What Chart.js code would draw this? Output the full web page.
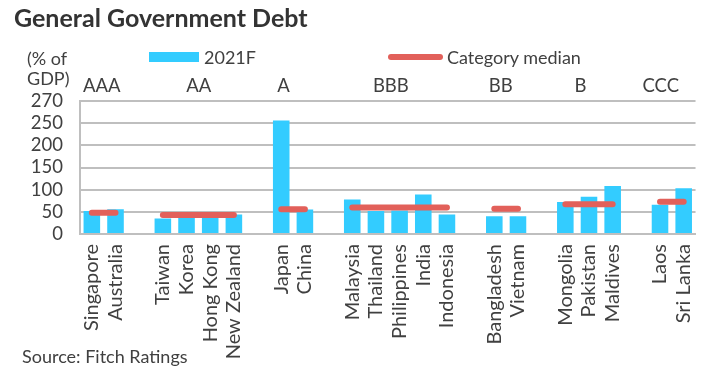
<!DOCTYPE html>
<html>
<head>
<meta charset="utf-8">
<script src="https://cdn.jsdelivr.net/npm/chart.js@4/dist/chart.umd.min.js"></script>
<style>
  html, body { margin: 0; padding: 0; background: #fff; }
  #wrap { position: relative; width: 718px; height: 388px; font-family: Lato, sans-serif; color: #404040; }
  #chart { position: absolute; left: 0; top: 0; }
  .abs { position: absolute; white-space: nowrap; line-height: 1; }
  #title { left: 14px; top: 5px; font-size: 25px; font-weight: 700; color: #333; }
  #unit { left: 27px; top: 48px; font-size: 18px; line-height: 20px; }
  #source { left: 22px; top: 347px; font-size: 18px; }
  .lg { top: 48px; font-size: 18px; }
  #lgBar { left: 149px; top: 52px; width: 50px; height: 10px; background: #33CCFF; }
  #lgLine { left: 388px; top: 54px; width: 55px; height: 6px; border-radius: 3px; background: #E2605A; }
</style>
</head>
<body>
<div id="wrap">
  <canvas id="chart" width="718" height="388"></canvas>
  <div class="abs" id="title">General Government Debt</div>
  <div class="abs" id="unit">(% of<br>GDP)</div>
  <div class="abs" id="lgBar"></div>
  <div class="abs lg" style="left:204px">2021F</div>
  <div class="abs" id="lgLine"></div>
  <div class="abs lg" style="left:447px">Category median</div>
  <div class="abs" id="source">Source: Fitch Ratings</div>
</div>
<script>
// rating buckets and how many countries fall in each
const ratings = ["AAA", "AA", "A", "BBB", "BB", "B", "CCC"];
const groupSizes = [2, 4, 2, 5, 2, 3, 2];
const medians = [48, 43, 56, 60, 57, 67, 73];

const countries = [
  "Singapore", "Australia",
  "Taiwan", "Korea", "Hong Kong", "New Zealand",
  "Japan", "China",
  "Malaysia", "Thailand", "Philippines", "India", "Indonesia",
  "Bangladesh", "Vietnam",
  "Mongolia", "Pakistan", "Maldives",
  "Laos", "Sri Lanka"
];
const debt2021F = [
  52, 56,
  35, 40, 40, 44,
  256, 55,
  78, 52, 53, 89, 44,
  40, 40,
  72, 84, 108,
  66, 103
];

const yTickLabels = ["0", "50", "100", "150", "200", "250", "270"];

// where the rating name sits, in category slots
const ratingLabelAt = [0.42, 4.52, 8.1, 12.63, 17.27, 20.64, 24.03];

const BLUE = "#33CCFF";
const RED = "#E2605A";
const GRID = "#BFBFBF";
const TEXT = "#404040";
const FONT = { family: "Lato", size: 18.5 };

// one empty slot between rating groups
const labels = [], barData = [], medianData = [];
let k = 0;
groupSizes.forEach((n, g) => {
  if (g > 0) { labels.push(""); barData.push(null); medianData.push(null); }
  for (let i = 0; i < n; i++) {
    labels.push(countries[k]);
    barData.push(debt2021F[k]);
    medianData.push(medians[g]);
    k++;
  }
});

const ratingLabels = {
  id: "ratingLabels",
  afterDraw(chart) {
    const x = chart.scales.x, ctx = chart.ctx;
    const step = x.getPixelForTick(1) - x.getPixelForTick(0);
    ctx.save();
    ctx.font = FONT.size + "px Lato";
    ctx.fillStyle = TEXT;
    ctx.textAlign = "center";
    ctx.textBaseline = "middle";
    ratings.forEach((r, i) => {
      ctx.fillText(r, x.getPixelForTick(0) + ratingLabelAt[i] * step, 86);
    });
    ctx.restore();
  }
};

new Chart(document.getElementById("chart"), {
  type: "bar",
  data: {
    labels,
    datasets: [
      { type: "line", label: "Category median", data: medianData, borderColor: RED, borderWidth: 6,
        borderCapStyle: "round", pointRadius: 0, spanGaps: false, order: 0 },
      { label: "2021F", data: barData, backgroundColor: BLUE, barPercentage: 0.7,
        categoryPercentage: 1, order: 1 }
    ]
  },
  options: {
    responsive: false,
    animation: false,
    layout: { padding: { top: 101, right: 16, bottom: 0, left: 0 } },
    plugins: { legend: { display: false }, tooltip: { enabled: false } },
    scales: {
      x: {
        grid: { display: false, drawTicks: false },
        border: { color: GRID, width: 2 },
        ticks: { color: TEXT, font: { family: "Lato", size: 20 }, minRotation: 90, maxRotation: 90,
                 autoSkip: false, padding: 10 },
        afterFit: (s) => { s.height = 154; }
      },
      y: {
        min: 0, max: 300,
        grid: { color: GRID, lineWidth: 2, drawTicks: false },
        border: { color: GRID, width: 2 },
        ticks: { stepSize: 50, color: TEXT, font: FONT, padding: 17, autoSkip: false,
                 callback: (v, i) => yTickLabels[i] },
        afterFit: (s) => { s.width = 80; }
      }
    }
  },
  plugins: [ratingLabels]
});
</script>
</body>
</html>
